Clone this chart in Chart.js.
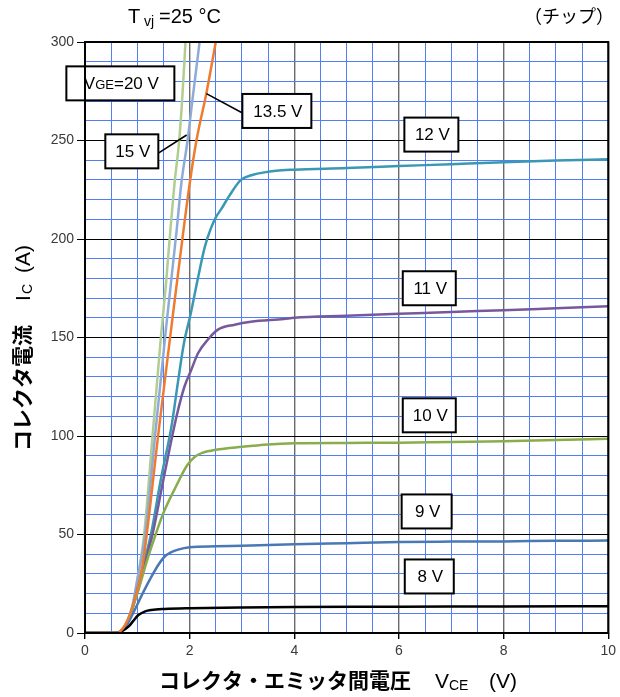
<!DOCTYPE html>
<html>
<head>
<meta charset="utf-8">
<script src="https://cdn.jsdelivr.net/npm/chart.js@4.4.1/dist/chart.umd.min.js"></script>
<style>
  body { margin: 0; background: #fff; }
  canvas { display: block; }
</style>
</head>
<body>
<canvas id="myChart" width="620" height="697"></canvas>
<script>
// Output characteristics, IGBT chip, Tvj = 25 °C
// Each curve: [VCE (V), IC (A)] pairs
var curve8V = [[0,0],[0.6,0],[0.7,0.8],[0.83,3.2],[0.92,6],[1.02,9.1],[1.15,11],[1.27,11.7],[1.52,12.2],
    [2,12.6],[3,13],[4,13.2],[6,13.3],[8,13.5],[10,13.6]];
var curve9V = [[0,0],[0.6,0],[0.7,1],[0.8,4],[0.95,11.7],[1.1,20],[1.27,28.6],[1.4,34.5],[1.52,38.7],
    [1.65,41],[1.78,42.3],[2,43.5],[2.5,44],[3,44.3],[4,45],[5,45.6],[6,46.2],[7,46.4],[8,46.5],[9,46.8],[10,46.9]];
var curve10V = [[0,0],[0.6,0],[0.7,1.5],[0.8,5],[0.9,12],[1.0,20],[1.1,29],[1.2,38],[1.35,50],[1.5,61],
    [1.75,75],[1.95,85],[2.1,89.5],[2.25,91.5],[2.5,93],[3,94.5],[3.5,95.7],[4,96.3],[5,96.5],[6,96.6],
    [7,97],[8,97.3],[9,98],[10,98.6]];
var curve11V = [[0,0],[0.6,0],[0.7,1.5],[0.8,5],[0.9,12],[1.0,21],[1.1,31],[1.29,50],[1.5,78],[1.75,110],
    [1.9,125],[2.03,133.5],[2.16,142],[2.35,149],[2.54,154],[2.86,156.5],[3.17,158],[3.8,159.4],[4,160],
    [5,161],[6,162],[7,163],[8,163.8],[9,164.8],[10,165.8]];
var curve12V = [[0,0],[0.6,0],[0.7,1.5],[0.8,5],[0.9,12],[1.0,22],[1.1,33],[1.26,50],[1.45,78],[1.66,106],
    [1.78,128],[1.89,147],[2.02,162],[2.15,179],[2.29,196],[2.4,205],[2.5,211],[2.6,215],[2.76,222],
    [2.98,230],[3.2,232.5],[3.4,233.7],[3.65,234.7],[4,235.2],[5,236],[6,237],[7,238],[8,239],[9,239.8],[10,240.5]];
var curve13V5 = [[0,0],[0.6,0],[0.7,1.5],[0.83,7.5],[0.95,17],[1.08,31],[1.18,50],[1.41,103],[1.65,155],
    [1.88,204],[2.0,228],[2.13,250],[2.32,274],[2.5,300]];
var curve15V = [[0,0],[0.6,0],[0.7,1.5],[0.8,5.5],[0.9,13],[1.0,27],[1.15,50],[1.35,103],[1.55,155],
    [1.75,204],[1.84,228],[1.96,250],[2.06,272],[2.19,300]];
var curve20V = [[0,0],[0.6,0],[0.7,1.5],[0.8,5.5],[0.9,13],[1.0,27],[1.13,50],[1.3,103],[1.45,150],
    [1.55,178],[1.63,204],[1.71,228],[1.8,250],[1.86,272],[1.92,300]];

var gateVoltages = ["8 V", "9 V", "10 V", "11 V", "12 V", "13.5 V", "15 V", "20 V"];
var curves = [curve8V, curve9V, curve10V, curve11V, curve12V, curve13V5, curve15V, curve20V];
var curveColors = ["#000000", "#4a78b4", "#8aad4c", "#76599c", "#3a98b4", "#ee7b30", "#8eaad8", "#b1cd92"];

var xTickLabels = [0, 2, 4, 6, 8, 10];
var yTickLabels = [0, 50, 100, 150, 200, 250, 300];

var LATIN = "'Liberation Sans', Arial, sans-serif";
var CJK = "'Noto Sans CJK JP', sans-serif";

// Label boxes, centred on data coordinates
var boxes = [
    { parts: [["V", 17], ["GE", 13, 1], ["=20 V", 17]], x: 0.676, y: 279, w: 108 },
    { parts: [["15 V", 17]], x: 0.895, y: 244.5, w: 53 },
    { parts: [["13.5 V", 17]], x: 3.667, y: 265, w: 69 },
    { parts: [["12 V", 17]], x: 6.62, y: 253, w: 54 },
    { parts: [["11 V", 17]], x: 6.58, y: 175, w: 53 },
    { parts: [["10 V", 17]], x: 6.58, y: 110.5, w: 53 },
    { parts: [["9 V", 17]], x: 6.53, y: 61.7, w: 50 },
    { parts: [["8 V", 17]], x: 6.58, y: 28.7, w: 49 }
];
// Leader lines from boxes to curves
var leaders = [[2.32, 273.8, 3.01, 264], [1.41, 243.7, 1.943, 252.8]];

function drawParts(ctx, parts, x, y) {
    parts.forEach(function (p) {
        ctx.font = p[1] + "px " + LATIN;
        ctx.fillText(p[0], x, y + (p[2] ? 1 : 0));
        x += ctx.measureText(p[0]).width;
    });
}
function partsWidth(ctx, parts) {
    var w = 0;
    parts.forEach(function (p) {
        ctx.font = p[1] + "px " + LATIN;
        w += ctx.measureText(p[0]).width;
    });
    return w;
}

var decorPlugin = {
    id: "decor",
    afterDatasetsDraw: function (chart) {
        var ctx = chart.ctx;
        var a = chart.chartArea;
        var xs = chart.scales.x, ys = chart.scales.y;
        ctx.save();

        // leader lines
        ctx.strokeStyle = "#000";
        ctx.lineWidth = 1.6;
        leaders.forEach(function (l) {
            ctx.beginPath();
            ctx.moveTo(xs.getPixelForValue(l[0]), ys.getPixelForValue(l[1]));
            ctx.lineTo(xs.getPixelForValue(l[2]), ys.getPixelForValue(l[3]));
            ctx.stroke();
        });

        // label boxes
        ctx.textBaseline = "middle";
        ctx.textAlign = "left";
        boxes.forEach(function (b) {
            var cx = xs.getPixelForValue(b.x), cy = ys.getPixelForValue(b.y);
            var h = 34;
            ctx.fillStyle = "#fff";
            ctx.fillRect(cx - b.w / 2, cy - h / 2, b.w, h);
            ctx.lineWidth = 2;
            ctx.strokeStyle = "#000";
            ctx.strokeRect(cx - b.w / 2, cy - h / 2, b.w, h);
            ctx.fillStyle = "#000";
            var tw = partsWidth(ctx, b.parts);
            drawParts(ctx, b.parts, cx - tw / 2 + 1, cy + 1);
        });

        // plot frame
        ctx.lineWidth = 2;
        ctx.strokeStyle = "#000";
        ctx.strokeRect(a.left, a.top, a.right - a.left, a.bottom - a.top);
        ctx.restore();
    },
    afterDraw: function (chart) {
        var ctx = chart.ctx;
        ctx.save();
        ctx.fillStyle = "#000";
        ctx.textBaseline = "alphabetic";
        ctx.textAlign = "left";

        // title
        ctx.font = "20px " + LATIN;
        ctx.fillText("T", 128, 23);
        ctx.font = "14px " + LATIN;
        ctx.fillText("vj", 144, 26);
        ctx.font = "20px " + LATIN;
        ctx.fillText("=25 °C", 159, 23);

        ctx.font = "18px " + CJK;
        ctx.textAlign = "right";
        ctx.fillText("（チップ）", 614, 23);
        ctx.textAlign = "left";

        // x axis title
        ctx.font = "bold 21px " + CJK;
        ctx.fillText("コレクタ・エミッタ間電圧", 159, 688);
        ctx.font = "21px " + LATIN;
        ctx.fillText("V", 435, 688);
        ctx.font = "14px " + LATIN;
        ctx.fillText("CE", 449, 690);
        ctx.font = "21px " + LATIN;
        ctx.fillText("(V)", 489, 688);

        // y axis title, rotated
        ctx.translate(30, 451);
        ctx.rotate(-Math.PI / 2);
        ctx.font = "bold 21px " + CJK;
        ctx.fillText("コレクタ電流", 0, 0);
        ctx.font = "21px " + LATIN;
        ctx.fillText("I", 150, 0);
        ctx.font = "14px " + LATIN;
        ctx.fillText("C", 157, 2);
        ctx.font = "21px " + LATIN;
        ctx.fillText("(A)", 178, 0);
        ctx.restore();
    }
};

var datasets = [];
for (var i = 0; i < curves.length; i++) {
    datasets.push({
        label: gateVoltages[i],
        data: curves[i].map(function (p) { return { x: p[0], y: p[1] }; }),
        borderColor: curveColors[i],
        borderWidth: 2.5,
        pointRadius: 0,
        showLine: true,
        fill: false,
        cubicInterpolationMode: "monotone",
        order: gateVoltages[i] === "13.5 V" ? 0 : 1
    });
}

var canvas = document.getElementById("myChart");
new Chart(canvas.getContext("2d"), {
    type: "scatter",
    data: { datasets: datasets },
    options: {
        responsive: false,
        animation: false,
        layout: { padding: { top: 42, right: 10, left: 0, bottom: 0 } },
        plugins: { legend: { display: false }, tooltip: { enabled: false } },
        scales: {
            x: {
                type: "linear", min: 0, max: 10,
                afterFit: function (s) { s.height = 64; },
                border: { display: false },
                grid: {
                    color: function (c) { return c.tick.value % 2 === 0 ? "#6a6a6a" : "#4f7ff2"; },
                    lineWidth: function (c) { return c.tick.value % 2 === 0 ? 1.4 : 1; },
                    tickColor: function (c) { return c.tick.value % 2 === 0 ? "#000" : "rgba(0,0,0,0)"; },
                    tickLength: 6
                },
                ticks: {
                    stepSize: 0.5, autoSkip: false, maxTicksLimit: 100, maxRotation: 0,
                    padding: 4, color: "#3a3a3a", font: { family: LATIN, size: 14 },
                    callback: function (v) { return xTickLabels.indexOf(v) >= 0 ? v : ""; }
                }
            },
            y: {
                type: "linear", min: 0, max: 300,
                afterFit: function (s) { s.width = 85; },
                border: { display: false },
                grid: {
                    color: function (c) { return c.tick.value % 50 === 0 ? "#000" : "#4f7ff2"; },
                    lineWidth: 1,
                    tickColor: function (c) { return c.tick.value % 50 === 0 ? "#000" : "rgba(0,0,0,0)"; },
                    tickLength: 8
                },
                ticks: {
                    stepSize: 10, autoSkip: false, maxTicksLimit: 100,
                    padding: 3, color: "#3a3a3a", font: { family: LATIN, size: 14 },
                    callback: function (v) { return yTickLabels.indexOf(v) >= 0 ? v : ""; }
                }
            }
        }
    },
    plugins: [decorPlugin]
});
</script>
</body>
</html>
